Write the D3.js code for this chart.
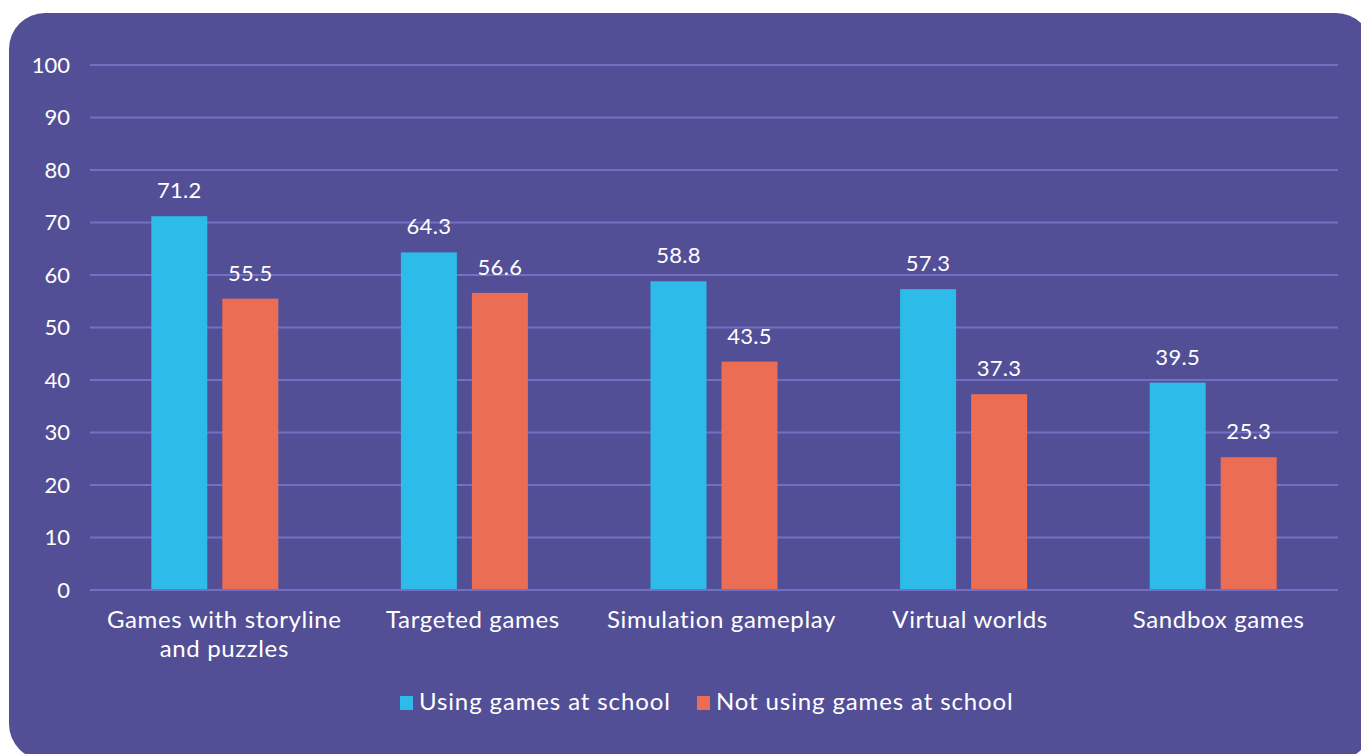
<!DOCTYPE html>
<html>
<head>
<meta charset="utf-8">
<script src="https://cdn.jsdelivr.net/npm/d3@7"></script>
<style>
  html, body { margin: 0; padding: 0; background: #ffffff; overflow: hidden; }
  svg { display: block; }
  text { font-family: Lato, "Open Sans", sans-serif; fill: #ffffff; }
</style>
</head>
<body>
<svg id="chart" width="1361" height="754"></svg>
<script>
const categories = [
  ["Games with storyline", "and puzzles"],
  ["Targeted games"],
  ["Simulation gameplay"],
  ["Virtual worlds"],
  ["Sandbox games"]
];
const seriesNames = ["Using games at school", "Not using games at school"];
const usingGames = [71.2, 64.3, 58.8, 57.3, 39.5];
const notUsingGames = [55.5, 56.6, 43.5, 37.3, 25.3];
const yTicks = [0, 10, 20, 30, 40, 50, 60, 70, 80, 90, 100];

const colors = ["#2dbbe9", "#eb6d53"];
const panelColor = "#534f97";
const gridColor = "#7370c4";

const svg = d3.select("#chart");

// panel background
svg.append("rect")
  .attr("x", 9).attr("y", 13)
  .attr("width", 1363).attr("height", 747)
  .attr("rx", 36).attr("ry", 36)
  .attr("fill", panelColor);

const plotLeft = 90, plotRight = 1338, plotTop = 65, plotBottom = 590;

const x = d3.scaleBand()
  .domain(d3.range(categories.length))
  .range([plotLeft, plotRight]);

// category text sits on a slightly shifted band
const xLabel = d3.scaleBand()
  .domain(d3.range(categories.length))
  .range([plotLeft + 10, plotRight + 5]);

const y = d3.scaleLinear().domain([0, 100]).range([plotBottom, plotTop]);

// grid lines
svg.append("g").selectAll("line")
  .data(yTicks)
  .join("line")
  .attr("x1", plotLeft).attr("x2", plotRight)
  .attr("y1", d => y(d)).attr("y2", d => y(d))
  .attr("stroke", gridColor).attr("stroke-width", 2);

// y axis labels
const yAxis = d3.axisLeft(y).tickValues(yTicks).tickSize(0).tickPadding(0);
const yg = svg.append("g").attr("transform", `translate(${plotLeft - 20},0)`).call(yAxis);
yg.select(".domain").remove();
yg.selectAll("text")
  .attr("font-size", 22)
  .attr("fill", "#ffffff")
  .style("font-family", "Lato, 'Open Sans', sans-serif");

const barW = 56, gap = 15;
const series = [usingGames, notUsingGames];

series.forEach((vals, si) => {
  const offset = si === 0 ? -(gap / 2 + barW) : gap / 2;
  const g = svg.append("g");
  g.selectAll("rect")
    .data(vals)
    .join("rect")
    .attr("x", (d, i) => x(i) + x.bandwidth() / 2 + offset)
    .attr("y", d => y(d))
    .attr("width", barW)
    .attr("height", d => y(0) - y(d))
    .attr("fill", colors[si]);
  g.selectAll("text")
    .data(vals)
    .join("text")
    .attr("x", (d, i) => x(i) + x.bandwidth() / 2 + offset + barW / 2)
    .attr("y", d => y(d) - 18)
    .attr("text-anchor", "middle")
    .attr("font-size", 22)
    .attr("letter-spacing", 0.3)
    .text(d => d.toFixed(1));
});

// baseline drawn over bars
svg.append("line")
  .attr("x1", plotLeft).attr("x2", plotRight)
  .attr("y1", y(0)).attr("y2", y(0))
  .attr("stroke", gridColor).attr("stroke-width", 2);

// category labels
const cat = svg.append("g").selectAll("text")
  .data(categories)
  .join("text")
  .attr("x", (d, i) => xLabel(i) + xLabel.bandwidth() / 2)
  .attr("y", 628)
  .attr("text-anchor", "middle")
  .attr("font-size", 24)
  .attr("letter-spacing", 0.65);
cat.selectAll("tspan")
  .data(d => d)
  .join("tspan")
  .attr("x", function() { return d3.select(this.parentNode).attr("x"); })
  .attr("dy", (d, i) => i === 0 ? 0 : 29)
  .text(d => d);

// legend
const legendItems = [
  { name: seriesNames[0], color: colors[0], sx: 400, tx: 419 },
  { name: seriesNames[1], color: colors[1], sx: 697, tx: 716 }
];
const lg = svg.append("g").selectAll("g")
  .data(legendItems)
  .join("g");
lg.append("rect")
  .attr("x", d => d.sx).attr("y", 696)
  .attr("width", 13).attr("height", 14)
  .attr("fill", d => d.color);
lg.append("text")
  .attr("x", d => d.tx).attr("y", 710)
  .attr("font-size", 24)
  .attr("letter-spacing", 0.88)
  .text(d => d.name);
</script>
</body>
</html>
